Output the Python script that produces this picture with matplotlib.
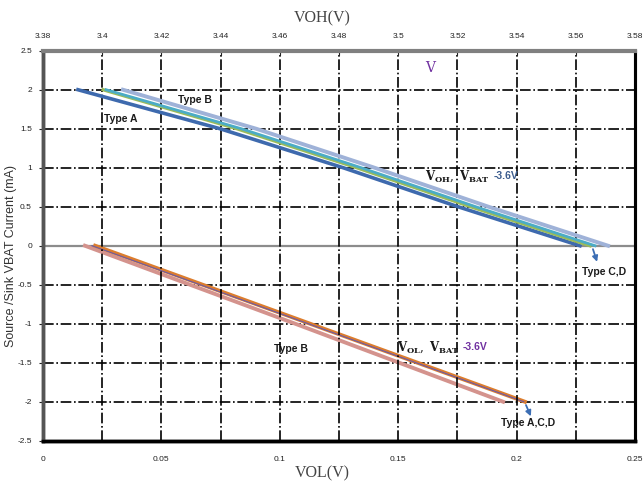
import numpy as np
import matplotlib
matplotlib.use('Agg')
import matplotlib.pyplot as plt
from matplotlib.ticker import FuncFormatter

# ------------------------------------------------------
# DATA
# ------------------------------------------------------

# VOH side (top axis, volts) vs source current (mA)
voh_current = [2.0, 1.5, 1.0, 0.5, 0.0]
voh_typeA = [3.3918, 3.4398, 3.4814, 3.5202, 3.5614]
voh_green = [3.4003, 3.4455, 3.4860, 3.5245, 3.5648]
voh_teal = [3.4013, 3.4470, 3.4875, 3.5262, 3.5665]
voh_typeB = [3.4070, 3.4520, 3.4920, 3.5305, 3.5709]

# VOL side (bottom axis, volts) vs sink current (mA)
vol_current = [0.0, -1.0, -2.0]
vol_typeB = [0.0177, 0.1065, 0.1943]
vol_purple = [0.0207, 0.1120, 0.2030]
vol_orange = [0.0220, 0.1128, 0.2035]

bottom_ticks = [0, 0.05, 0.1, 0.15, 0.2, 0.25]
top_ticks = [3.38, 3.40, 3.42, 3.44, 3.46, 3.48, 3.50, 3.52, 3.54, 3.56, 3.58]
y_ticks = [-2.5, -2, -1.5, -1, -0.5, 0, 0.5, 1, 1.5, 2, 2.5]

# ------------------------------------------------------
# PLOT
# ------------------------------------------------------

plt.rcParams['font.family'] = ['Liberation Sans Narrow', 'Liberation Sans', 'DejaVu Sans']
plt.rcParams['mathtext.fontset'] = 'dejavuserif'

fig = plt.figure(figsize=(6.44, 4.91), dpi=100)
ax1 = fig.add_axes([0.0668, 0.1024, 0.9192, 0.7943])
ax2 = ax1.twiny()

gfmt = FuncFormatter(lambda v, p: '%g' % round(v, 4))

ax1.set_xlim(0, 0.25)
ax1.set_ylim(-2.5, 2.5)
ax2.set_xlim(3.38, 3.58)

ax1.set_xticks(bottom_ticks)
ax1.set_yticks(y_ticks)
ax2.set_xticks(top_ticks)
ax1.xaxis.set_major_formatter(gfmt)
ax1.yaxis.set_major_formatter(gfmt)
ax2.xaxis.set_major_formatter(gfmt)

ax1.tick_params(axis='x', length=0, labelsize=6, pad=11, colors='#222222')
ax1.tick_params(axis='y', length=3, labelsize=6, pad=5, colors='#222222')
ax2.tick_params(axis='x', length=3, direction='in', labelsize=6, pad=8, colors='#222222')

# grid: horizontal lines from bottom axes, vertical lines from top axis
for yv in [-2, -1.5, -1, -0.5, 0.5, 1, 1.5, 2]:
	ax1.axhline(yv, color='k', linestyle='-.', linewidth=1.2, zorder=1)
for xv in top_ticks[1:-1]:
	ax2.axvline(xv, color='k', linestyle='-.', linewidth=1.2, zorder=1)
ax1.axhline(0, color='#8c8c8c', linewidth=1.6, zorder=1)

# frame
ax1.spines['top'].set_visible(False)
ax2.spines['top'].set_color('#808080')
ax2.spines['top'].set_linewidth(3)
for a in (ax1, ax2):
	a.spines['left'].set_color('#555555')
	a.spines['left'].set_linewidth(2.5)
	a.spines['right'].set_color('k')
	a.spines['right'].set_linewidth(2.2)
	a.spines['bottom'].set_color('k')
	a.spines['bottom'].set_linewidth(2.5)

# VOH lines
ax2.plot(voh_typeA, voh_current, color='#3e6aae', linewidth=2.6, zorder=3)
ax2.plot(voh_typeB, voh_current, color='#9fb2d8', linewidth=2.8, zorder=3)
ax2.plot(voh_green, voh_current, color='#9bbb59', linewidth=2.4, zorder=4)
ax2.plot(voh_teal, voh_current, color='#4bacc6', linewidth=2.0, zorder=5)

# VOL lines
ax1.plot(vol_typeB, vol_current, color='#d4938d', linewidth=2.8, zorder=3)
ax1.plot(vol_orange, vol_current, color='#dc7d2e', linewidth=2.8, zorder=4)
ax1.plot(vol_purple, vol_current, color='#6a5aa8', linewidth=0.8, zorder=5)

# annotations (text in data coords of the axes they belong to)
lab = dict(fontsize=7.5, fontweight='bold', ha='center', va='center', color='#1a1a1a', zorder=6)
ax2.text(3.4313, 1.87, 'Type B', **lab)
ax2.text(3.4063, 1.63, 'Type A', **lab)
ax2.text(3.5310, 0.89, r'$\mathbf{V_{OH}},\ \mathbf{V_{BAT}}$', fontsize=8.5,
	ha='right', va='center', color='#1a1a1a', zorder=6)
ax2.text(3.5322, 0.89, '-3.6V', fontsize=7.5, fontweight='bold', ha='left', va='center', color='#3b5c8e', zorder=6)
ax2.text(3.5695, -0.34, 'Type C,D', **lab)
ax2.annotate('', xy=(3.5675, -0.24), xytext=(3.5655, -0.01),
	arrowprops=dict(arrowstyle='-|>', color='#3c6eb4', lw=1.3, mutation_scale=8), zorder=6)
ax2.text(3.5107, 2.28, 'V', fontsize=10, family='DejaVu Serif', ha='center', va='center', color='#7030a0', zorder=6)

ax1.text(0.1047, -1.325, 'Type B', **lab)
ax1.text(0.1760, -1.30, r'$\mathbf{V_{OL}},\ \mathbf{V_{BAT}}$', fontsize=8.5,
	ha='right', va='center', color='#1a1a1a', zorder=6)
ax1.text(0.1772, -1.30, '-3.6V', fontsize=7.5, fontweight='bold', ha='left', va='center', color='#7030a0', zorder=6)
ax1.text(0.2048, -2.27, 'Type A,C,D', **lab)
ax1.annotate('', xy=(0.2065, -2.22), xytext=(0.2035, -2.01),
	arrowprops=dict(arrowstyle='-|>', color='#3c6eb4', lw=1.3, mutation_scale=8), zorder=6)

# axis titles
fig.text(0.5, 0.963, 'VOH(V)', fontsize=11.5, family='Liberation Serif', color='#444444', ha='center', va='center')
fig.text(0.5, 0.035, 'VOL(V)', fontsize=11.5, family='Liberation Serif', color='#444444', ha='center', va='center')
fig.text(11 / 644, 1 - 256 / 491, 'Source /Sink VBAT Current (mA)', fontsize=9, family='Liberation Sans',
	color='#333333', rotation=90, ha='center', va='center')

fig.savefig('out.png', dpi=100)
